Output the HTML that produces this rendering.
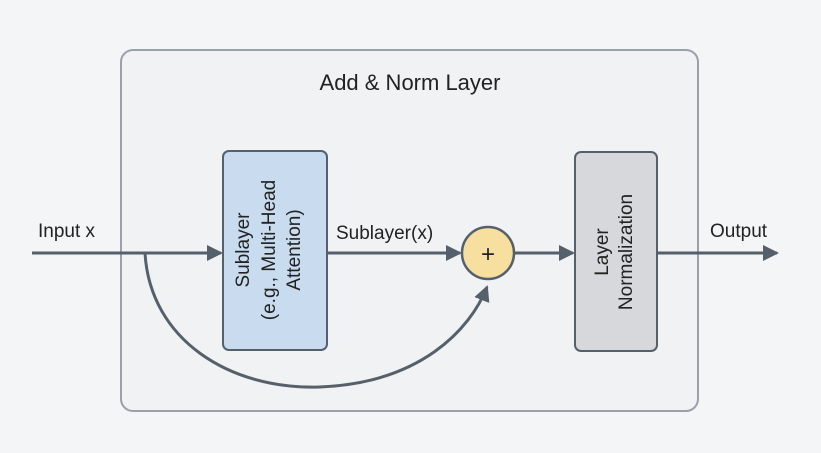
<!DOCTYPE html>
<html><head><style>
body{margin:0;width:821px;height:448px;background:#f4f5f6;overflow:hidden}
svg{font-family:"Liberation Sans",sans-serif}
</style></head><body>
<svg width="821" height="448" viewBox="0 0 821 448">
<defs>
<marker id="b" markerWidth="16" markerHeight="16" refX="14" refY="8" orient="auto" markerUnits="userSpaceOnUse"><path d="M0,0 L16,8 L0,16 z" fill="#56606a"/></marker></defs>
<rect x="121" y="50" width="577" height="361" rx="12" fill="#f0f2f4" stroke="#9aa1a8" stroke-width="2"/>
<text x="410" y="90" font-size="22" text-anchor="middle" fill="#222">Add &amp; Norm Layer</text>
<rect x="223" y="151" width="104" height="199" rx="6" fill="#c9dcef" stroke="#56606a" stroke-width="2"/>
<rect x="575" y="152" width="82" height="199" rx="6" fill="#d6d8db" stroke="#56606a" stroke-width="2"/>
<g font-size="19" fill="#222" text-anchor="middle">
<text transform="translate(275,250) rotate(-90)"><tspan x="0" y="-26">Sublayer</tspan><tspan x="0" y="0">(e.g., Multi-Head</tspan><tspan x="0" y="25">Attention)</tspan></text>
<text transform="translate(616,252) rotate(-90)"><tspan x="0" y="-8">Layer</tspan><tspan x="0" y="16">Normalization</tspan></text>
</g>
<g stroke="#56606a" stroke-width="3" fill="none">
<line x1="32" y1="253" x2="221" y2="253" marker-end="url(#b)"/>
<line x1="327" y1="253" x2="460" y2="253" marker-end="url(#b)"/>
<line x1="515" y1="253" x2="573" y2="253" marker-end="url(#b)"/>
<line x1="657" y1="253" x2="777" y2="253" marker-end="url(#b)"/>
<path d="M145,253 C150,340 230,390 320,387 C420,383 470,330 487,287" marker-end="url(#b)"/>
</g>
<circle cx="488" cy="253" r="26" fill="#f7dfa0" stroke="#56606a" stroke-width="2.5"/>
<text x="488" y="262" font-size="24" text-anchor="middle" fill="#222">+</text>
<text x="38" y="237" font-size="19" fill="#222">Input x</text>
<text x="336" y="239" font-size="19" fill="#222">Sublayer(x)</text>
<text x="710" y="237" font-size="19" fill="#222">Output</text>
</svg>
</body></html>
